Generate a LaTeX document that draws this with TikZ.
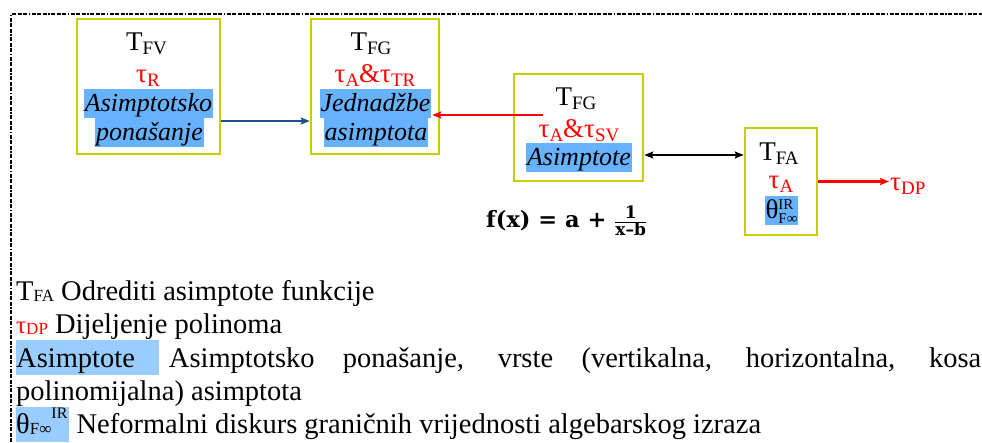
\documentclass[tikz,border=0pt]{standalone}
\usepackage{fontspec}
\setmainfont{Liberation Serif}
\newfontfamily\formulafont{DejaVu Serif}
\usetikzlibrary{arrows.meta,positioning}
\definecolor{boxyellow}{RGB}{204,204,0}
\definecolor{hlblue}{RGB}{102,178,255}
\definecolor{hllight}{RGB}{153,204,255}
\definecolor{linkblue}{RGB}{28,76,145}
\newcommand{\boxsub}[1]{\raisebox{-4pt}{\fontsize{19}{19}\selectfont #1}}
\newcommand{\legsub}[1]{\raisebox{-1pt}{\fontsize{17}{17}\selectfont #1}}
\tikzset{
ybox/.style={draw=boxyellow, line width=2.5pt, inner sep=0pt}, % yellow frame of a step
boxtext/.style={anchor=base, inner sep=0pt, font=\fontsize{27}{27}\selectfont},
redtext/.style={boxtext, text=red},
hlfill/.style={boxtext, fill=hlblue, inner xsep=1pt, inner ysep=1.5pt, text height=20.5pt, text depth=5.5pt},
hltext/.style={hlfill, font=\fontsize{26}{26}\selectfont\itshape},
legend/.style={anchor=base west, inner sep=0pt, font=\fontsize{28.5}{28.5}\selectfont},
conn/.style={line width=2.5pt, -{Stealth[length=9pt,width=7pt,inset=1.5pt]}},
border/.style={line width=2.2pt, dash pattern=on 4pt off 1.5pt on 4pt off 1.5pt on 4pt off 1.5pt on 1.5pt off 1.5pt},
}

\begin{document}
\begin{tikzpicture}[x=1pt,y=1pt,yscale=-1,xscale=1]
\useasboundingbox (0,0) rectangle (982,442);
%Frame
\draw[border] (11,442) -- (11,14) -- (982,14);
%Boxes
\node[ybox, minimum width=143, minimum height=135] (fv) at (148.5,86.5) {};
\node[ybox, minimum width=128, minimum height=135] (fg) at (375,86.5) {};
\node[ybox, minimum width=129, minimum height=107] (fgsv) at (578.5,127.5) {};
\node[ybox, minimum width=72, minimum height=107] (fa) at (781,181.5) {};
%Box texts
\node[boxtext] (fvT) at (146.5,50) {T\boxsub{FV}};
\node[redtext] (fvTau) at (148,82) {τ\boxsub{R}};
\node[hltext] (fvA) at (148.5,111) {Asimptotsko};
\node[hltext] (fvB) at (149.5,140) {ponašanje};
\node[boxtext] (fgT) at (371,50) {T\boxsub{FG}};
\node[redtext] (fgTau) at (375,82) {τ\boxsub{A}\&τ\boxsub{TR}};
\node[hltext] (fgA) at (375.5,111) {Jednadžbe};
\node[hltext] (fgB) at (376,140) {asimptota};
\node[boxtext] (svT) at (576,105) {T\boxsub{FG}};
\node[redtext] (svTau) at (579,137) {τ\boxsub{A}\&τ\boxsub{SV}};
\node[hltext] (svA) at (579,165) {Asimptote};
\node[boxtext] (faT) at (779,160) {T\boxsub{FA}};
\node[redtext] (faTau) at (781,188) {τ\boxsub{A}};
\node[hlfill] (faTheta) at (781.5,218) {θ\rlap{\raisebox{9pt}{\fontsize{15}{15}\selectfont IR}}\raisebox{-5pt}{\fontsize{15}{15}\selectfont F∞}};
\node[redtext, anchor=base west, inner xsep=1pt] (dp) at (889,190) {τ\boxsub{DP}};
%Formula
\node[anchor=base west, inner sep=0pt, font=\formulafont\bfseries\fontsize{22.5}{22.5}\selectfont] (fx) at (486,227)
{f(x) = a + $\frac{\hbox{\fontsize{17}{17}\selectfont 1}}{\hbox{\fontsize{17}{17}\selectfont x–b}}$};
%Connectors
\coordinate (bluelevel) at (0,121);
\coordinate (redtail) at (543,115);
\coordinate (blacklevel) at (0,155);
\draw[conn, linkblue] (fv.east |- bluelevel) -- (fg.west |- bluelevel);
\draw[conn, red] (redtail) -- ([xshift=-8pt]redtail -| fg.east);
\draw[conn, {Stealth[length=9pt,width=7pt,inset=1.5pt]}-{Stealth[length=9pt,width=7pt,inset=1.5pt]}, line width=2pt] (fgsv.east |- blacklevel) -- (fa.west |- blacklevel);
\draw[conn, red] (fa.east) -- (fa.east -| dp.west);
%Legend
\node[legend] (leg1) at (16,300) {T\legsub{FA} Odrediti asimptote funkcije};
\node[legend] (leg2) at (16,333) {{\color{red}\fontsize{25}{25}\selectfont τ\legsub{DP}} Dijeljenje polinoma};
\node[legend] (leg3) at (16,367) {\hbox to 965pt{\fboxsep=0pt\colorbox{hllight}{\rule[-8pt]{0pt}{35pt}Asimptote\hspace{24pt}}\hspace{10pt}Asimptotsko ponašanje, vrste (vertikalna, horizontalna, kosa}};
\node[legend] (leg4) at (16,400) {polinomijalna) asimptota};
\node[legend] (leg5) at (16,433) {\fboxsep=0pt\colorbox{hllight}{\rule[-9pt]{0pt}{35pt}θ\legsub{F∞}\raisebox{15pt}{\fontsize{16}{16}\selectfont IR}\hspace{2pt}} Neformalni diskurs graničnih vrijednosti algebarskog izraza};
\end{tikzpicture}
\end{document}
